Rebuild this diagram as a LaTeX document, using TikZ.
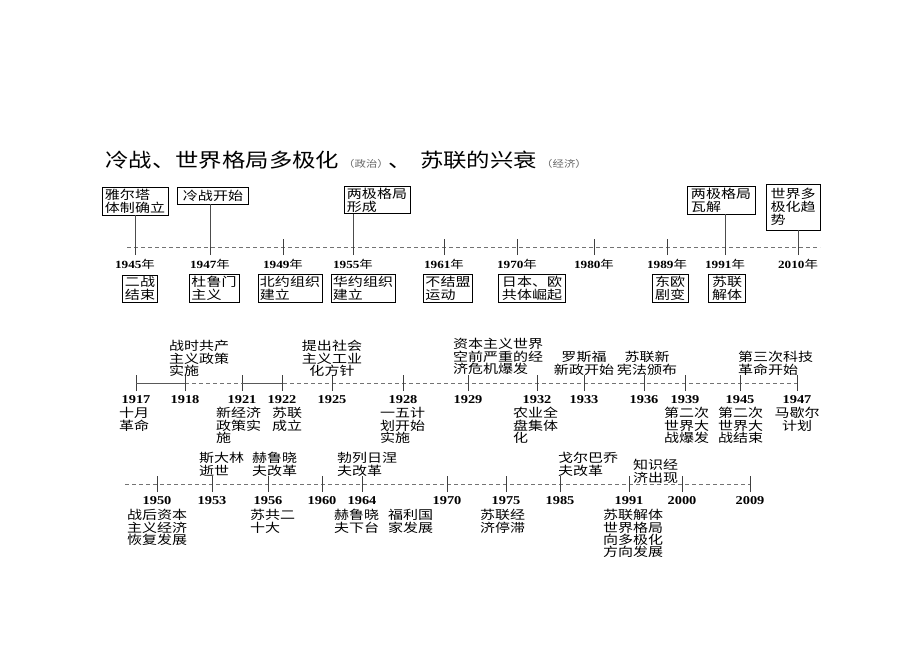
\documentclass[tikz,border=0pt]{standalone}
\usepackage{fontspec}
\newfontfamily\cjk[FakeStretch=1.22]{Noto Sans CJK SC}
\newfontfamily\titlefont[FakeStretch=1.2]{Noto Sans CJK SC}
\newfontfamily\yrfont[FakeStretch=1.2]{Liberation Serif}
\tikzset{
  txt/.style={font=\cjk\fontsize{12.3}{12.3}\selectfont, inner sep=0pt, align=left, anchor=north west},
  txtc/.style={txt, align=center, anchor=north},
  evbox/.style={draw, line width=0.7pt, font=\cjk\fontsize{12.3}{13}\selectfont, align=left, inner xsep=2pt, inner ysep=1.5pt},
  yrtop/.style={font=\yrfont\bfseries\fontsize{11}{11}\selectfont, inner sep=0pt},
  yrlbl/.style={font=\yrfont\bfseries\fontsize{12}{12}\selectfont, inner sep=0pt},
  axisdash/.style={draw=black!55, line width=0.8pt, dash pattern=on 4pt off 3pt},
  axissolid/.style={draw=black!65, line width=0.8pt},
  tickmark/.style={draw=black!75, line width=0.8pt},
  conn/.style={draw=black!70, line width=0.8pt}
}
\begin{document}
\begin{tikzpicture}[x=1pt,y=-1pt]
\fill[white] (0,0) rectangle (920,651);
\path[use as bounding box] (0,0) rectangle (920,651);

% title
\node[anchor=base west, inner sep=0pt, font=\titlefont\fontsize{19.5}{20}\selectfont] (title) at (105,167)
  {冷战、世界格局多极化\hspace{4pt}{\color{black!60}\fontsize{9.5}{9.5}\selectfont（政治）}、\hspace{8pt}苏联的兴衰\hspace{4pt}{\color{black!60}\fontsize{9.5}{9.5}\selectfont（经济）}};

% ===== top timeline =====
\coordinate (ta0) at (127,247);
\coordinate (ta1) at (820,247);
\draw[axisdash] (ta0) -- (ta1);
\foreach \n/\x in {1945/135,1947/210,1949/283,1955/353,1961/444,1970/517,1980/594,1989/667,1991/725,2010/798}{
  \coordinate (ta\n) at (\x,247);
  \draw[tickmark] ([yshift=-8pt]ta\n) -- ([yshift=8pt]ta\n);
  \node[yrtop] (ya\n) at (\x,264) {\n{\cjk\mdseries 年}};
}
% boxes above
\node[evbox, minimum width=66pt, minimum height=28pt] (bx45) at (135,201) {雅尔塔\\体制确立};
\node[evbox, minimum width=71pt, minimum height=17pt] (bx47) at (213,195.5) {冷战开始};
\node[evbox, minimum width=66pt, minimum height=26pt] (bx55) at (377,200) {两极格局\\形成};
\node[evbox, minimum width=68pt, minimum height=28pt] (bx91) at (721,200) {两极格局\\瓦解};
\node[evbox, minimum width=54pt, minimum height=46pt] (bx10) at (793,207) {世界多\\极化趋\\势};
\draw[conn] (bx45.south -| ta1945) -- (ta1945);
\draw[conn] (bx47.south -| ta1947) -- (ta1947);
\draw[conn] (bx55.south -| ta1955) -- (ta1955);
\draw[conn] (bx91.south -| ta1991) -- (ta1991);
\draw[conn] (bx10.south -| ta2010) -- (ta2010);
% boxes below
\node[evbox, minimum width=35pt, minimum height=27pt] (bb45) at (140,288.5) {二战\\结束};
\node[evbox, minimum width=50pt, minimum height=27pt] (bb47) at (214,288.5) {杜鲁门\\主义};
\node[evbox, minimum width=64pt, minimum height=27pt] (bb49) at (290,288.5) {北约组织\\建立};
\node[evbox, minimum width=63pt, minimum height=27pt] (bb55) at (363,288.5) {华约组织\\建立};
\node[evbox, minimum width=49pt, minimum height=27pt] (bb61) at (448,288.5) {不结盟\\运动};
\node[evbox, minimum width=67pt, minimum height=27pt] (bb70) at (532,288.5) {日本、欧\\共体崛起};
\node[evbox, minimum width=36pt, minimum height=27pt] (bb89) at (670,288.5) {东欧\\剧变};
\node[evbox, minimum width=37pt, minimum height=27pt] (bb91) at (727,288.5) {苏联\\解体};

% ===== middle timeline =====
\coordinate (tb0) at (136,383);
\coordinate (tb1) at (797,383);
\draw[axisdash] (tb0) -- (tb1);
\foreach \n/\x in {1917/136,1918/185,1921/242,1922/282,1925/332,1928/403,1929/468,1932/537,1933/584,1936/644,1939/685,1945/740,1947/797}{
  \coordinate (tb\n) at (\x,383);
  \draw[tickmark] ([yshift=-8pt]tb\n) -- ([yshift=8pt]tb\n);
  \node[yrlbl] (yb\n) at (\x,400) {\n};
}
\draw[axissolid] (tb1917) -- (tb1918);
\draw[axissolid] (tb1921) -- (tb1922);
% above
\node[txt]  (m1) at (169,340.3) {战时共产\\主义政策\\实施};
\node[txtc] (m2) at (332,340.3) {提出社会\\主义工业\\化方针};
\node[txt]  (m3) at (453,338.3) {资本主义世界\\空前严重的经\\济危机爆发};
\node[txtc] (m4) at (584,351.3) {罗斯福\\新政开始};
\node[txtc] (m5) at (647,351.3) {苏联新\\宪法颁布};
\node[txt]  (m6) at (738,351.3) {第三次科技\\革命开始};
% below
\node[txt]  (n1) at (119,407.3) {十月\\革命};
\node[txt]  (n2) at (216,407.3) {新经济\\政策实\\施};
\node[txt]  (n3) at (272,407.3) {苏联\\成立};
\node[txt]  (n4) at (380,407.3) {一五计\\划开始\\实施};
\node[txt]  (n5) at (513,407.3) {农业全\\盘集体\\化};
\node[txt]  (n6) at (664,407.3) {第二次\\世界大\\战爆发};
\node[txt]  (n7) at (718,407.3) {第二次\\世界大\\战结束};
\node[txtc] (n8) at (797,407.3) {马歇尔\\计划};

% ===== bottom timeline =====
\coordinate (tc0) at (125,484);
\coordinate (tc1) at (750,484);
\draw[axisdash] (tc0) -- (tc1);
\foreach \n/\x in {1950/157,1953/212,1956/268,1960/322,1964/362,1970/447,1975/506,1985/560,1991/629,2000/682,2009/750}{
  \coordinate (tc\n) at (\x,484);
  \draw[tickmark] ([yshift=-8pt]tc\n) -- ([yshift=8pt]tc\n);
  \node[yrlbl] (yc\n) at (\x,501) {\n};
}
% above
\node[txt] (p1) at (199,452.3) {斯大林\\逝世};
\node[txt] (p2) at (252,452.3) {赫鲁晓\\夫改革};
\node[txt] (p3) at (337,452.3) {勃列日涅\\夫改革};
\node[txt] (p4) at (558,452.3) {戈尔巴乔\\夫改革};
\node[txt] (p5) at (633,459.3) {知识经\\济出现};
% below
\node[txt] (q1) at (127,509.3) {战后资本\\主义经济\\恢复发展};
\node[txt] (q2) at (250,509.3) {苏共二\\十大};
\node[txt] (q3) at (334,509.3) {赫鲁晓\\夫下台};
\node[txt] (q4) at (388,509.3) {福利国\\家发展};
\node[txt] (q5) at (480,509.3) {苏联经\\济停滞};
\node[txt] (q6) at (603,509.3) {苏联解体\\世界格局\\向多极化\\方向发展};
\end{tikzpicture}
\end{document}
